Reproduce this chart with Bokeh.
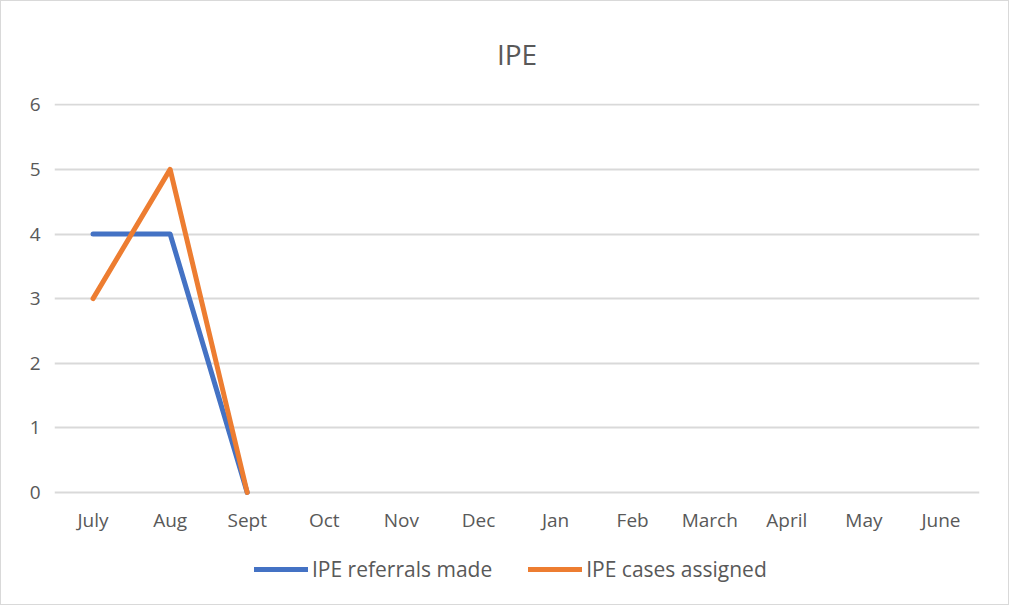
from bokeh.plotting import figure
from bokeh.models import Legend, LegendItem, Range1d, FixedTicker
from bokeh.core.properties import value
from bokeh.embed import file_html
from bokeh.resources import INLINE

months = ["July", "Aug", "Sept", "Oct", "Nov", "Dec", "Jan", "Feb", "March", "April", "May", "June"]
referrals_months = ["July", "Aug", "Sept"]
referrals = [4, 4, 0]
cases_months = ["July", "Aug", "Sept"]
cases = [3, 5, 0]
y_ticks = [0, 1, 2, 3, 4, 5, 6]

FONT = "Open Sans"
TXT = "#595959"

# frame extends below the zero line so that month labels and legend live inside it
p = figure(x_range=months, y_range=Range1d(-1.61, 6.02), width=1009, height=605,
           output_backend="svg", toolbar_location=None, title="IPE",
           min_border_left=53, min_border_right=31, min_border_top=97, min_border_bottom=10)
p.styles = {"border": "1px solid #D9D9D9", "box-sizing": "border-box"}
p.title.align = "center"
p.title.text_font = FONT
p.title.text_font_size = "28px"
p.title.text_font_style = "normal"
p.title.text_color = TXT
p.title.standoff = 62

p.outline_line_color = None
p.x_range.range_padding = 0

p.xgrid.grid_line_color = None
p.ygrid.grid_line_color = "#D9D9D9"
p.ygrid.grid_line_width = 2
p.yaxis.ticker = FixedTicker(ticks=y_ticks)
p.xaxis.visible = False

ax = p.yaxis
ax.axis_line_color = None
ax.major_tick_line_color = None
ax.minor_tick_line_color = None
ax.major_label_text_font = FONT
ax.major_label_text_font_size = "19px"
ax.major_label_text_color = TXT
ax.major_label_standoff = 8

# category labels, placed through the categorical scale
p.text(x=months, y=[-0.43] * len(months), text=months,
       text_font=value(FONT), text_font_size="19px", text_color=TXT,
       text_align="center", text_baseline="middle")

r1 = p.line(referrals_months, referrals, line_color="#4472C4", line_width=5, line_cap="round", line_join="round")
r2 = p.line(cases_months, cases, line_color="#ED7D31", line_width=5, line_cap="round", line_join="round")

legend = Legend(items=[LegendItem(label="IPE referrals made", renderers=[r1]),
                       LegendItem(label="IPE cases assigned", renderers=[r2])],
                orientation="horizontal", location=(200, 13),
                label_text_font=FONT, label_text_font_size="21px", label_text_color=TXT,
                glyph_width=54, label_standoff=4, spacing=36, border_line_color=None,
                background_fill_alpha=0, margin=0, padding=0)
p.add_layout(legend, "center")

open("out.html", "w").write(file_html(p, INLINE))
